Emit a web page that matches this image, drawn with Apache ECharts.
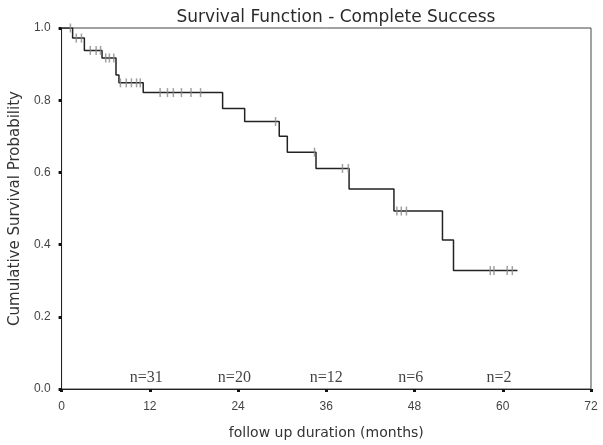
<!DOCTYPE html>
<html>
<head>
<meta charset="utf-8">
<script src="https://cdn.jsdelivr.net/npm/echarts@6/dist/echarts.min.js"></script>
<style>
  html, body { margin: 0; padding: 0; background: #fff; }
  #chart { width: 603px; height: 445px; }
</style>
</head>
<body>
<div id="chart"></div>
<script>
// step points of the survival curve: [month, survival after the event]
var eventTimes = [0, 1.5, 3.1, 5.5, 7.4, 7.8, 11.1, 21.9, 24.9, 29.6, 30.7, 34.6, 39.1, 45.2, 51.8, 53.3, 62];
var eventSurv  = [1.0, 0.972, 0.938, 0.917, 0.87, 0.848, 0.821, 0.777, 0.741, 0.70, 0.656, 0.611, 0.554, 0.493, 0.413, 0.328, 0.328];
// censored observations
var censorTimes = [1.2, 2.0, 2.7, 3.9, 4.7, 5.3, 6.0, 6.5, 7.1, 8.0, 8.8, 9.5, 10.2, 10.7, 13.4, 14.4, 15.2, 16.3, 17.6, 18.9, 29.1, 34.4, 38.2, 39.0, 45.6, 46.2, 46.9, 58.3, 58.8, 60.6, 61.3];
var censorSurv  = [1.0, 0.972, 0.972, 0.938, 0.938, 0.938, 0.917, 0.917, 0.917, 0.848, 0.848, 0.848, 0.848, 0.848, 0.821, 0.821, 0.821, 0.821, 0.821, 0.821, 0.741, 0.656, 0.611, 0.611, 0.493, 0.493, 0.493, 0.328, 0.328, 0.328, 0.328];
// numbers at risk
var riskMonths = [11.5, 23.5, 36, 47.5, 59.5];
var riskLabels = ['n=31', 'n=20', 'n=12', 'n=6', 'n=2'];

(function () {
  var myChart = echarts.init(document.getElementById('chart'));

  var curve = eventTimes.map(function (t, i) { return [t, eventSurv[i]]; });
  var censors = censorTimes.map(function (t, i) { return [t, censorSurv[i]]; });
  var risk = riskMonths.map(function (m, i) { return { value: [m, 0.03], name: riskLabels[i] }; });

  var option = {
    backgroundColor: '#fff',
    animation: false,
    title: {
      text: 'Survival Function - Complete Success',
      left: 331, top: 4, textAlign: 'center',
      textStyle: { fontFamily: 'DejaVu Sans', fontSize: 17, fontWeight: 'normal', color: '#2a2a2a' }
    },
    grid: { left: 61, right: 12, top: 28, bottom: 54, show: true, borderColor: '#444', borderWidth: 1 },
    xAxis: {
      type: 'value', min: 0, max: 72, interval: 12,
      name: 'follow up duration (months)', nameLocation: 'middle', nameGap: 37,
      nameTextStyle: { fontFamily: 'DejaVu Sans', fontSize: 14, color: '#333' },
      axisLine: { lineStyle: { color: '#222' } },
      axisTick: { length: 3, lineStyle: { width: 3, color: '#111' } },
      axisLabel: { fontFamily: 'Liberation Sans', fontSize: 12, color: '#444', margin: 12 },
      splitLine: { show: false }
    },
    yAxis: {
      type: 'value', min: 0, max: 1, interval: 0.2,
      name: 'Cumulative Survival Probability', nameLocation: 'middle', nameGap: 36,
      nameTextStyle: { fontFamily: 'DejaVu Sans', fontSize: 15, color: '#333' },
      axisLine: { lineStyle: { color: '#222' } },
      axisTick: { length: 3, lineStyle: { width: 3, color: '#111' } },
      axisLabel: { fontFamily: 'Liberation Sans', fontSize: 12, color: '#444', margin: 11,
        formatter: function (v) { return v.toFixed(1); } },
      splitLine: { show: false }
    },
    series: [
      {
        type: 'line', step: 'end', data: curve, showSymbol: false,
        lineStyle: { color: '#222', width: 1.5 }, z: 3
      },
      {
        type: 'scatter', data: censors, symbol: 'rect', symbolSize: [1.5, 9],
        itemStyle: { color: '#8a8a8a' }, z: 4
      },
      {
        type: 'scatter', data: risk, symbolSize: 0,
        label: {
          show: true, position: 'inside', formatter: '{b}',
          fontFamily: 'Liberation Serif', fontSize: 16, color: '#111'
        }
      }
    ]
  };

  myChart.setOption(option);
})();
</script>
</body>
</html>
